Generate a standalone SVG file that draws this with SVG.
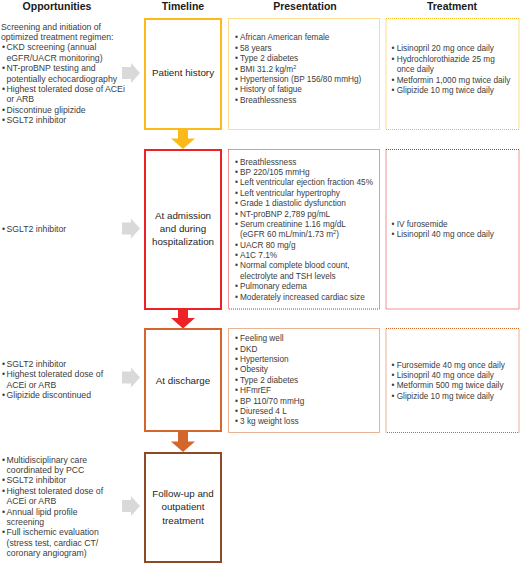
<svg xmlns="http://www.w3.org/2000/svg" width="520" height="564" viewBox="0 0 520 564">
<style>
text{font-family:"Liberation Sans",Arial,sans-serif;fill:#3c3c3c}
.h{font-size:10.5px;font-weight:bold;fill:#1a1a1a;text-anchor:middle}
.l{font-size:8.7px}
.p{font-size:8.25px}
.n{font-size:9.8px;text-anchor:middle;fill:#262626}
.sup{font-size:5.5px}
.solid{fill:#fff;stroke-width:2}
.dot{fill:none;stroke-width:1;stroke-dasharray:1 1}
.y{stroke:#FBBA1A}.r{stroke:#EC2227}.o{stroke:#D2662C}.b{stroke:#8E4A26}
.ga{fill:#D9D9D9}
</style>
<g id="headers">
<text class="h" x="57" y="9.5">Opportunities</text>
<text class="h" x="183" y="9.5">Timeline</text>
<text class="h" x="305" y="9.5">Presentation</text>
<text class="h" x="452" y="9.5">Treatment</text>
</g>
<g id="connectors">
<polygon fill="#FBBA1A" points="178,129 188,129 188,138.5 195,138.5 183,149 171,138.5 178,138.5"/>
<polygon fill="#EC2227" points="178,309 188,309 188,318 195,318 183,328.5 171,318 178,318"/>
<polygon fill="#D2662C" points="178,431.5 188,431.5 188,441.5 195,441.5 183,452 171,441.5 178,441.5"/>
<polygon class="ga" points="122,67 131,67 131,63 140,73 131,83 131,79 122,79"/>
<polygon class="ga" points="122,222.6 131,222.6 131,218.6 140,228.6 131,238.6 131,234.6 122,234.6"/>
<polygon class="ga" points="122,371.5 131,371.5 131,367.5 140,377.5 131,387.5 131,383.5 122,383.5"/>
<polygon class="ga" points="122,500 131,500 131,496 140,506 131,516 131,512 122,512"/>
</g>
<g id="opp-history" class="l">
<text x="1" y="29.7">Screening and initiation of</text>
<text x="1" y="40.1">optimized treatment regimen:</text>
<text x="2" y="50.4">•</text><text x="6.5" y="50.4">CKD screening (annual</text>
<text x="6.5" y="60.8">eGFR/UACR monitoring)</text>
<text x="2" y="71.2">•</text><text x="6.5" y="71.2">NT-proBNP testing and</text>
<text x="6.5" y="81.5">potentially echocardiography</text>
<text x="2" y="91.9">•</text><text x="6.5" y="91.9">Highest tolerated dose of ACEi</text>
<text x="6.5" y="102.3">or ARB</text>
<text x="2" y="112.7">•</text><text x="6.5" y="112.7">Discontinue glipizide</text>
<text x="2" y="123">•</text><text x="6.5" y="123">SGLT2 inhibitor</text>
</g>
<g id="opp-admission" class="l">
<text x="2" y="231.7">•</text><text x="6.5" y="231.7">SGLT2 inhibitor</text>
</g>
<g id="opp-discharge" class="l">
<text x="2" y="367">•</text><text x="6.5" y="367">SGLT2 inhibitor</text>
<text x="2" y="377.4">•</text><text x="6.5" y="377.4">Highest tolerated dose of</text>
<text x="6.5" y="387.7">ACEi or ARB</text>
<text x="2" y="398">•</text><text x="6.5" y="398">Glipizide discontinued</text>
</g>
<g id="opp-followup" class="l">
<text x="2" y="462.7">•</text><text x="6.5" y="462.7">Multidisciplinary care</text>
<text x="6.5" y="473.1">coordinated by PCC</text>
<text x="2" y="483.4">•</text><text x="6.5" y="483.4">SGLT2 inhibitor</text>
<text x="2" y="493.8">•</text><text x="6.5" y="493.8">Highest tolerated dose of</text>
<text x="6.5" y="504.2">ACEi or ARB</text>
<text x="2" y="514.5">•</text><text x="6.5" y="514.5">Annual lipid profile</text>
<text x="6.5" y="524.9">screening</text>
<text x="2" y="535.3">•</text><text x="6.5" y="535.3">Full ischemic evaluation</text>
<text x="6.5" y="545.7">(stress test, cardiac CT/</text>
<text x="6.5" y="556">coronary angiogram)</text>
</g>
<g id="node-history">
<rect class="solid y" x="145" y="19" width="76" height="110"/>
<text class="n" x="183" y="76.2">Patient history</text>
</g>
<g id="node-admission">
<rect class="solid r" x="145" y="150" width="76" height="159"/>
<text class="n" x="183" y="219.2">At admission</text>
<text class="n" x="183" y="232">and during</text>
<text class="n" x="183" y="244.8">hospitalization</text>
</g>
<g id="node-discharge">
<rect class="solid o" x="145" y="329" width="76" height="102"/>
<text class="n" x="183" y="383.5">At discharge</text>
</g>
<g id="node-followup">
<rect class="solid b" x="145" y="453" width="76" height="109"/>
<text class="n" x="183" y="496.8">Follow-up and</text>
<text class="n" x="183" y="510.2">outpatient</text>
<text class="n" x="183" y="523.5">treatment</text>
</g>
<g id="pres-history" class="p">
<rect class="dot y" x="228.5" y="18.5" width="151" height="111"/>
<text x="235" y="40.3">•</text><text x="240" y="40.3">African American female</text>
<text x="235" y="50.7">•</text><text x="240" y="50.7">58 years</text>
<text x="235" y="61.1">•</text><text x="240" y="61.1">Type 2 diabetes</text>
<text x="235" y="71.5">•</text><text x="240" y="71.5">BMI 31.2 kg/m<tspan class="sup" dy="-3">2</tspan></text>
<text x="235" y="81.9">•</text><text x="240" y="81.9">Hypertension (BP 156/80 mmHg)</text>
<text x="235" y="92.3">•</text><text x="240" y="92.3">History of fatigue</text>
<text x="235" y="102.7">•</text><text x="240" y="102.7">Breathlessness</text>
</g>
<g id="treat-history" class="p">
<rect class="dot y" x="386" y="18.5" width="133" height="111"/>
<text x="391.5" y="51.3">•</text><text x="396.7" y="51.3">Lisinopril 20 mg once daily</text>
<text x="391.5" y="61.7">•</text><text x="396.7" y="61.7">Hydrochlorothiazide 25 mg</text>
<text x="396.7" y="72.1">once daily</text>
<text x="391.5" y="82.5">•</text><text x="396.7" y="82.5">Metformin 1,000 mg twice daily</text>
<text x="391.5" y="92.9">•</text><text x="396.7" y="92.9">Glipizide 10 mg twice daily</text>
</g>
<g id="pres-admission" class="p">
<rect class="dot r" x="228.5" y="149.5" width="151" height="159.5"/>
<text x="235" y="164.7">•</text><text x="240" y="164.7">Breathlessness</text>
<text x="235" y="175.1">•</text><text x="240" y="175.1">BP 220/105 mmHg</text>
<text x="235" y="185.4">•</text><text x="240" y="185.4">Left ventricular ejection fraction 45%</text>
<text x="235" y="195.8">•</text><text x="240" y="195.8">Left ventricular hypertrophy</text>
<text x="235" y="206.2">•</text><text x="240" y="206.2">Grade 1 diastolic dysfunction</text>
<text x="235" y="216.5">•</text><text x="240" y="216.5">NT-proBNP 2,789 pg/mL</text>
<text x="235" y="226.9">•</text><text x="240" y="226.9">Serum creatinine 1.16 mg/dL</text>
<text x="240" y="237.3">(eGFR 60 mL/min/1.73 m<tspan class="sup" dy="-3">2</tspan><tspan dy="3">)</tspan></text>
<text x="235" y="247.7">•</text><text x="240" y="247.7">UACR 80 mg/g</text>
<text x="235" y="258">•</text><text x="240" y="258">A1C 7.1%</text>
<text x="235" y="268.4">•</text><text x="240" y="268.4">Normal complete blood count,</text>
<text x="240" y="278.8">electrolyte and TSH levels</text>
<text x="235" y="289.1">•</text><text x="240" y="289.1">Pulmonary edema</text>
<text x="235" y="299.5">•</text><text x="240" y="299.5">Moderately increased cardiac size</text>
</g>
<g id="treat-admission" class="p">
<rect class="dot r" x="386" y="149.5" width="133" height="159.5"/>
<text x="391.5" y="226.7">•</text><text x="396.7" y="226.7">IV furosemide</text>
<text x="391.5" y="237">•</text><text x="396.7" y="237">Lisinopril 40 mg once daily</text>
</g>
<g id="pres-discharge" class="p">
<rect class="dot o" x="228.5" y="328.5" width="151" height="104"/>
<text x="235" y="341.3">•</text><text x="240" y="341.3">Feeling well</text>
<text x="235" y="351.7">•</text><text x="240" y="351.7">DKD</text>
<text x="235" y="362">•</text><text x="240" y="362">Hypertension</text>
<text x="235" y="372.4">•</text><text x="240" y="372.4">Obesity</text>
<text x="235" y="382.8">•</text><text x="240" y="382.8">Type 2 diabetes</text>
<text x="235" y="393.1">•</text><text x="240" y="393.1">HFmrEF</text>
<text x="235" y="403.5">•</text><text x="240" y="403.5">BP 110/70 mmHg</text>
<text x="235" y="413.9">•</text><text x="240" y="413.9">Diuresed 4 L</text>
<text x="235" y="424.3">•</text><text x="240" y="424.3">3 kg weight loss</text>
</g>
<g id="treat-discharge" class="p">
<rect class="dot o" x="386" y="328.5" width="133" height="104"/>
<text x="391.5" y="367.7">•</text><text x="396.7" y="367.7">Furosemide 40 mg once daily</text>
<text x="391.5" y="378">•</text><text x="396.7" y="378">Lisinopril 40 mg once daily</text>
<text x="391.5" y="388.4">•</text><text x="396.7" y="388.4">Metformin 500 mg twice daily</text>
<text x="391.5" y="398.7">•</text><text x="396.7" y="398.7">Glipizide 10 mg twice daily</text>
</g>
</svg>
